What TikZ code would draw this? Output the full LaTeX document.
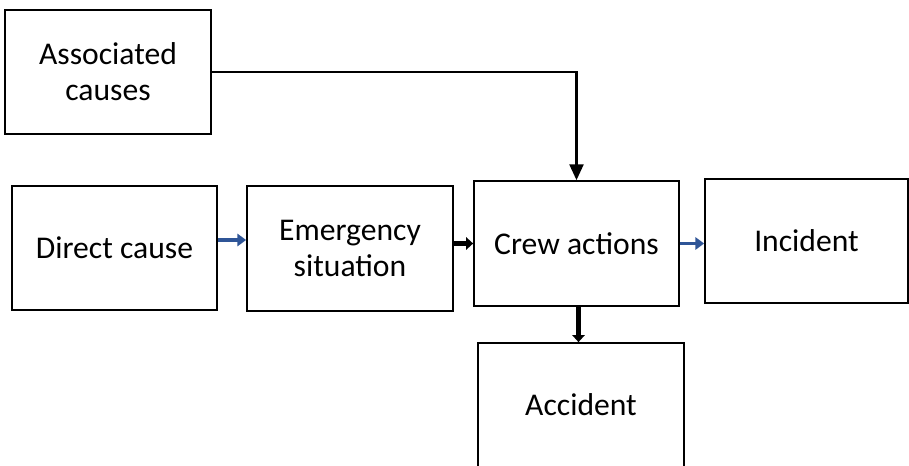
\documentclass[tikz,border=0pt]{standalone}
\usepackage{fontspec}
\setmainfont{Carlito}
\usetikzlibrary{arrows.meta}
\definecolor{arrowblue}{RGB}{47,85,151}
\tikzset{
  box/.style={draw,line width=1pt,align=center,inner sep=2pt,
    font=\fontsize{18}{20.5}\selectfont},
  flow/.style={line width=2.8pt,-{Triangle[length=4pt,width=7pt]}},
  blueflow/.style={line width=2pt,arrowblue,-{Triangle[length=5pt,width=7pt]}}
}

\begin{document}
\begin{tikzpicture}[x=0.02cm,y=-0.02cm]
\useasboundingbox (0,0) rectangle (909,466);
\clip (0,0) rectangle (909,466);

\node[box,minimum width=4.12cm,minimum height=2.48cm] (assoc) at (108,72) {Associated\\causes};
\node[box,minimum width=4.10cm,minimum height=2.48cm] (direct) at (114.5,248) {Direct cause};
\node[box,minimum width=4.12cm,minimum height=2.50cm] (emerg) at (350,248.5) {Emergency\\situation};
\node[box,minimum width=4.10cm,minimum height=2.50cm] (crew) at (576.5,243.5) {Crew actions};
\node[box,minimum width=4.06cm,minimum height=2.48cm] (incident) at (806.5,241) {Incident};
\node[box,minimum width=4.12cm,minimum height=2.48cm] (accident) at (581,405) {Accident};

% links
\draw[line width=1.2pt,-{Triangle[length=9pt,width=8pt]}] (assoc.east) -| (crew.north);
\draw[blueflow] ([yshift=0.16cm]direct.east) -- ([yshift=0.16cm]direct.east -| emerg.west);
\draw[flow] (emerg.east |- crew.west) -- (crew.west);
\draw[blueflow] (crew.east) -- (crew.east -| incident.west);
\draw[flow] ([xshift=0.04cm]crew.south) -- ([xshift=0.04cm]crew.south |- accident.north);

\end{tikzpicture}
\end{document}
